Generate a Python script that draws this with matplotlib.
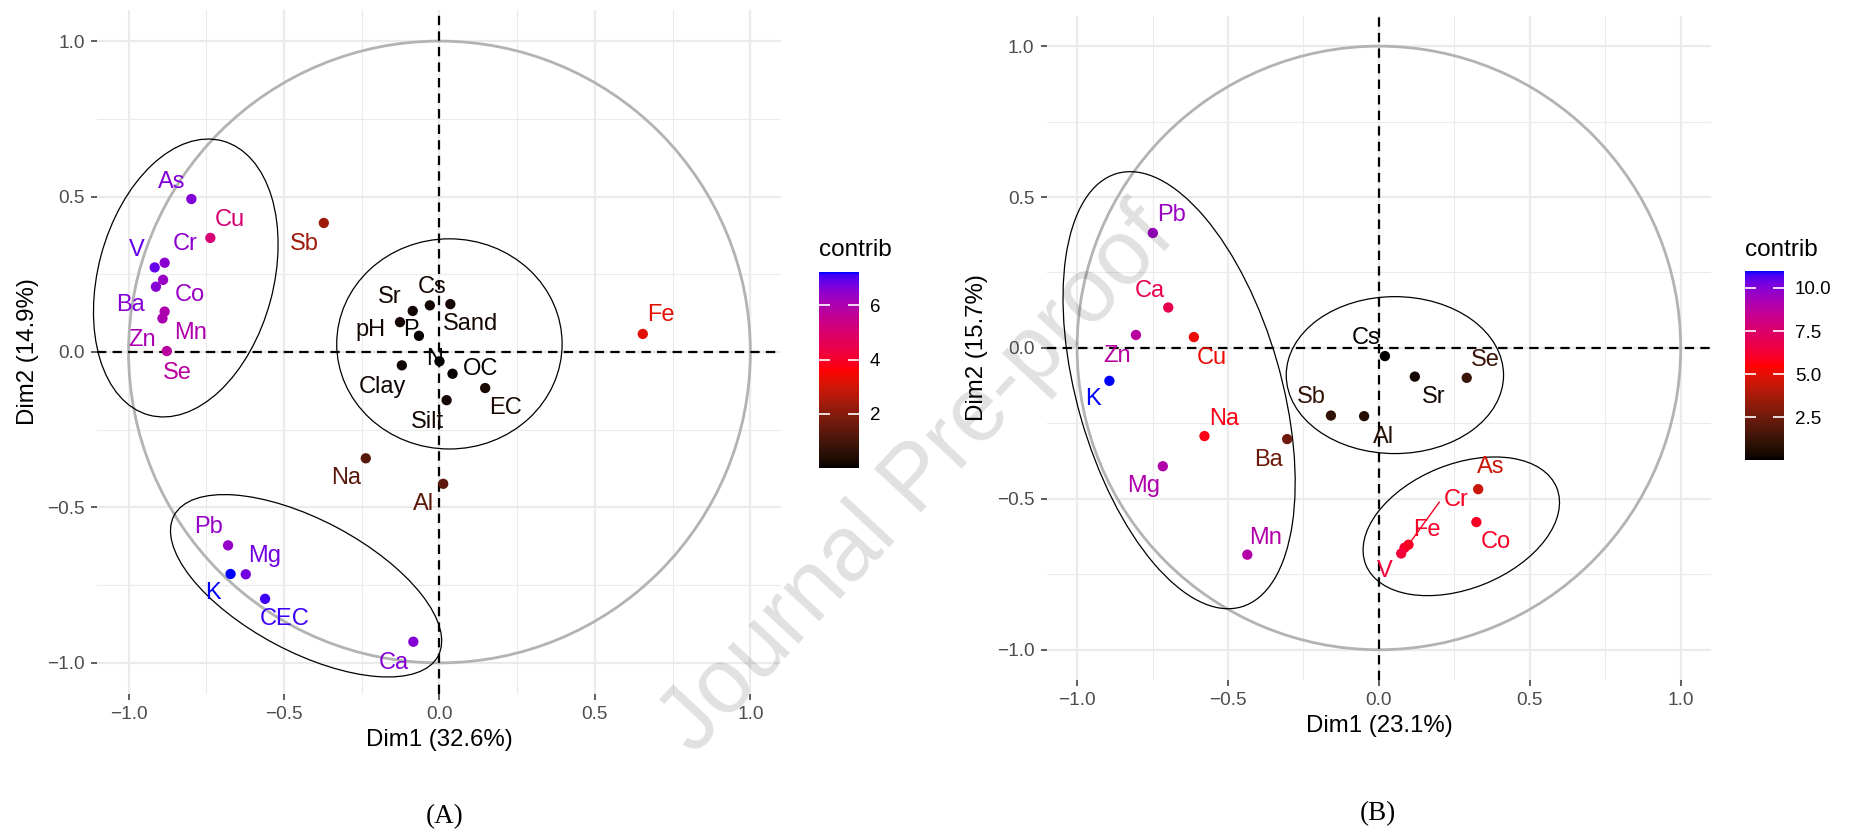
import numpy as np
import matplotlib
matplotlib.use('Agg')
import matplotlib.pyplot as plt
from matplotlib.colors import ListedColormap, Normalize
from matplotlib.patches import Ellipse, Circle
from matplotlib.ticker import FuncFormatter, FixedLocator

plt.rcParams['font.family'] = ['Liberation Sans', 'DejaVu Sans']

# ---- panel A : variables, coordinates on Dim1/Dim2, contribution ----
a_vars = ['As', 'Cu', 'Sb', 'V', 'Cr', 'Ba', 'Co', 'Mn', 'Zn', 'Se',
          'Sr', 'Cs', 'Sand', 'pH', 'P', 'N', 'OC', 'Clay', 'EC', 'Silt',
          'Pb', 'Mg', 'K', 'CEC', 'Ca', 'Al', 'Na', 'Fe']
a_dim1 = [-0.798, -0.737, -0.372, -0.916, -0.884, -0.912, -0.889, -0.884, -0.891, -0.877,
          -0.086, -0.031, 0.035, -0.127, -0.066, 0.000, 0.042, -0.121, 0.147, 0.023,
          -0.680, -0.623, -0.672, -0.561, -0.084, 0.012, -0.237, 0.654]
a_dim2 = [0.492, 0.367, 0.415, 0.272, 0.287, 0.210, 0.232, 0.130, 0.108, 0.003,
          0.132, 0.150, 0.154, 0.096, 0.052, -0.030, -0.070, -0.043, -0.116, -0.155,
          -0.622, -0.715, -0.714, -0.794, -0.932, -0.424, -0.342, 0.058]
a_contrib = [6.61, 5.10, 2.33, 6.87, 6.50, 6.59, 6.35, 6.00, 6.06, 5.78,
             0.19, 0.18, 0.19, 0.19, 0.05, 0.004, 0.05, 0.12, 0.26, 0.18,
             6.39, 6.76, 7.23, 7.11, 6.59, 1.35, 1.30, 3.24]

# ---- panel B ----
b_vars = ['Pb', 'Ca', 'Zn', 'Cu', 'K', 'Na', 'Ba', 'Mg', 'Mn', 'Sb',
          'Cs', 'Sr', 'Se', 'Al', 'As', 'Co', 'Fe', 'Cr', 'V']
b_dim1 = [-0.749, -0.698, -0.805, -0.613, -0.893, -0.578, -0.304, -0.716, -0.436, -0.159,
          0.020, 0.119, 0.291, -0.049, 0.329, 0.323, 0.085, 0.098, 0.074]
b_dim2 = [0.381, 0.134, 0.043, 0.036, -0.109, -0.292, -0.302, -0.392, -0.685, -0.224,
          -0.027, -0.095, -0.099, -0.226, -0.468, -0.577, -0.662, -0.652, -0.681]
b_contrib = [9.58, 6.85, 8.81, 5.12, 10.98, 5.69, 2.49, 9.04, 8.94, 1.02,
             0.015, 0.31, 1.28, 0.73, 4.44, 5.93, 6.04, 5.89, 6.36]

# label placement (repelled text), offsets from the point
a_offsets = {'As': (-0.062, 0.056), 'Cu': (0.062, 0.057), 'Sb': (-0.063, -0.069),
             'V': (-0.058, 0.056), 'Cr': (0.065, 0.059), 'Ba': (-0.081, -0.059),
             'Co': (0.086, -0.049), 'Mn': (0.084, -0.068), 'Zn': (-0.067, -0.069),
             'Se': (0.034, -0.071), 'Sr': (-0.073, 0.046), 'Cs': (0.008, 0.060),
             'Sand': (0.064, -0.064), 'pH': (-0.096, -0.025), 'P': (-0.027, 0.019),
             'N': (-0.016, 0.008), 'OC': (0.089, 0.014), 'Clay': (-0.063, -0.069),
             'EC': (0.065, -0.065), 'Silt': (-0.062, -0.069), 'Pb': (-0.063, 0.060),
             'Mg': (0.062, 0.059), 'K': (-0.057, -0.062), 'CEC': (0.062, -0.066),
             'Ca': (-0.064, -0.069), 'Al': (-0.062, -0.065), 'Na': (-0.064, -0.063),
             'Fe': (0.057, 0.061)}
b_offsets = {'Pb': (0.063, 0.058), 'Ca': (-0.062, 0.056), 'Zn': (-0.064, -0.070),
             'Cu': (0.061, -0.070), 'K': (-0.056, -0.060), 'Na': (0.065, 0.058),
             'Ba': (-0.063, -0.068), 'Mg': (-0.064, -0.066), 'Mn': (0.062, 0.056),
             'Sb': (-0.064, 0.062), 'Cs': (-0.063, 0.059), 'Sr': (0.061, -0.067),
             'Se': (0.060, 0.059), 'Al': (0.063, -0.069), 'As': (0.041, 0.072),
             'Co': (0.063, -0.067), 'Fe': (0.073, 0.060), 'Cr': (0.157, 0.147),
             'V': (-0.056, -0.057)}
b_segments = ['Cr']

# group ellipses: centre, width, height, angle
a_ellipses = [((-0.816, 0.238), 0.913, 0.564, 75),
              ((0.032, 0.026), 0.725, 0.676, 0),
              ((-0.429, -0.752), 0.962, 0.424, -28)]
b_ellipses = [((-0.662, -0.140), 1.494, 0.676, 106),
              ((0.053, -0.090), 0.720, 0.520, 0),
              ((0.273, -0.591), 0.682, 0.412, 22)]


def rgb2lab(rgb):
    c = np.asarray(rgb, float)
    c = np.where(c <= 0.04045, c / 12.92, ((c + 0.055) / 1.055) ** 2.4)
    m = np.array([[0.4124, 0.3576, 0.1805], [0.2126, 0.7152, 0.0722], [0.0193, 0.1192, 0.9505]])
    x, y, z = m @ c
    x, z = x / 0.95047, z / 1.08883
    f = lambda t: np.where(t > (6 / 29) ** 3, np.cbrt(t), t / (3 * (6 / 29) ** 2) + 4 / 29)
    fx, fy, fz = f(x), f(y), f(z)
    return np.array([116 * fy - 16, 500 * (fx - fy), 200 * (fy - fz)])


def lab2rgb(lab):
    L, a, b = lab
    fy = (L + 16) / 116
    fx, fz = fy + a / 500, fy - b / 200
    finv = lambda t: np.where(t > 6 / 29, t ** 3, 3 * (6 / 29) ** 2 * (t - 4 / 29))
    x, y, z = 0.95047 * finv(fx), finv(fy), 1.08883 * finv(fz)
    m = np.array([[3.2406, -1.5372, -0.4986], [-0.9689, 1.8758, 0.0415], [0.0557, -0.2040, 1.0570]])
    c = m @ np.array([x, y, z])
    c = np.where(c <= 0.0031308, 12.92 * c, 1.055 * np.abs(c) ** (1 / 2.4) - 0.055)
    return np.clip(c, 0, 1)


# black -> red -> blue, interpolated in CIELAB like ggplot
stops = [rgb2lab([0, 0, 0]), rgb2lab([1, 0, 0]), rgb2lab([0, 0, 1])]
cols = []
for t in np.linspace(0, 1, 256):
    i = 0 if t < 0.5 else 1
    u = (t - 0.5 * i) / 0.5
    cols.append(lab2rgb(stops[i] * (1 - u) + stops[i + 1] * u))
cmap = ListedColormap(cols)

fmt = FuncFormatter(lambda v, p: ('%.1f' % v).replace('-', '\u2212') if abs(v) > 1e-9 else '0.0')

fig = plt.figure(figsize=(18.5, 8.34), dpi=100)


def draw_panel(rect, crect, tpos, names, d1, d2, contrib, offsets, ellipses,
               xlab, ylab, cticks, cfmt, segments=()):
    ax = fig.add_axes(rect)
    ax.set_xlim(-1.1, 1.1)
    ax.set_ylim(-1.1, 1.1)
    ax.set_aspect('equal')
    for s in ax.spines.values():
        s.set_visible(False)
    major = [-1, -0.5, 0, 0.5, 1]
    minor = [-0.75, -0.25, 0.25, 0.75]
    ax.xaxis.set_major_locator(FixedLocator(major))
    ax.yaxis.set_major_locator(FixedLocator(major))
    ax.xaxis.set_minor_locator(FixedLocator(minor))
    ax.yaxis.set_minor_locator(FixedLocator(minor))
    ax.xaxis.set_major_formatter(fmt)
    ax.yaxis.set_major_formatter(fmt)
    ax.grid(which='major', color='#EBEBEB', lw=1.6)
    ax.grid(which='minor', color='#EBEBEB', lw=0.8)
    ax.set_axisbelow(True)
    ax.tick_params(which='major', length=4, width=1.1, color='#333333',
                   labelsize=13.7, labelcolor='#4D4D4D', pad=5)
    ax.tick_params(which='minor', length=0)
    ax.set_xlabel(xlab, fontsize=17.3, labelpad=4)
    ax.set_ylabel(ylab, fontsize=17.3, labelpad=6)

    ax.add_patch(Circle((0, 0), 1, fill=False, ec='#B3B3B3', lw=2.0, zorder=2))
    dash = (0, (4.2, 2.8))
    ax.axhline(0, color='black', ls=dash, lw=1.6, zorder=3)
    ax.axvline(0, color='black', ls=dash, lw=1.6, zorder=3)
    for (c, w, h, ang) in ellipses:
        ax.add_patch(Ellipse(c, w, h, angle=ang, fill=False, ec='black', lw=0.9,
                             zorder=3, clip_on=False))

    norm = Normalize(min(contrib), max(contrib))
    sc = ax.scatter(d1, d2, c=contrib, cmap=cmap, norm=norm, s=55,
                    edgecolors='none', zorder=4)
    for n, x, y, v in zip(names, d1, d2, contrib):
        dx, dy = offsets[n]
        col = cmap(norm(v))
        ax.text(x + dx, y + dy, n, ha='center', va='center', fontsize=17,
                color=col, zorder=5)
        if n in segments:
            ax.plot([x, x + dx - 0.055], [y, y + dy - 0.006], color=col, lw=1.0, zorder=4)

    cax = fig.add_axes(crect)
    cb = fig.colorbar(sc, cax=cax, ticks=cticks)
    cb.outline.set_visible(False)
    cb.ax.set_yticklabels([cfmt % t for t in cticks])
    cax.tick_params(direction='in', length=8, width=1.2, color='white',
                    left=True, right=True, labelsize=13.5, pad=8)
    fig.text(tpos[0], tpos[1], 'contrib', fontsize=17.5, ha='left', va='center')
    return ax


draw_panel([0.0524, 0.1679, 0.3703, 0.8201], [0.4427, 0.4388, 0.0216, 0.2350],
           (0.4427, 1 - 250 / 834), a_vars, a_dim1, a_dim2, a_contrib, a_offsets,
           a_ellipses, 'Dim1 (32.6%)', 'Dim2 (14.9%)', [2, 4, 6], '%d')
draw_panel([0.5659, 0.1847, 0.3589, 0.7962], [0.9432, 0.4484, 0.0211, 0.2266],
           (0.9432, 1 - 250 / 834), b_vars, b_dim1, b_dim2, b_contrib, b_offsets,
           b_ellipses, 'Dim1 (23.1%)', 'Dim2 (15.7%)', [2.5, 5.0, 7.5, 10.0], '%.1f',
           segments=b_segments)

fig.text(445 / 1850, 1 - 817 / 834, '(A)', family='Liberation Serif', fontsize=19.5,
         ha='center', va='center')
fig.text(1378 / 1850, 1 - 814 / 834, '(B)', family='Liberation Serif', fontsize=19.5,
         ha='center', va='center')

# watermark
fig.text(0.496, 0.423, 'Journal Pre-proof', rotation=47, fontsize=66, color='black',
         alpha=0.12, ha='center', va='center', zorder=10)

fig.savefig('out.png', dpi=100)
